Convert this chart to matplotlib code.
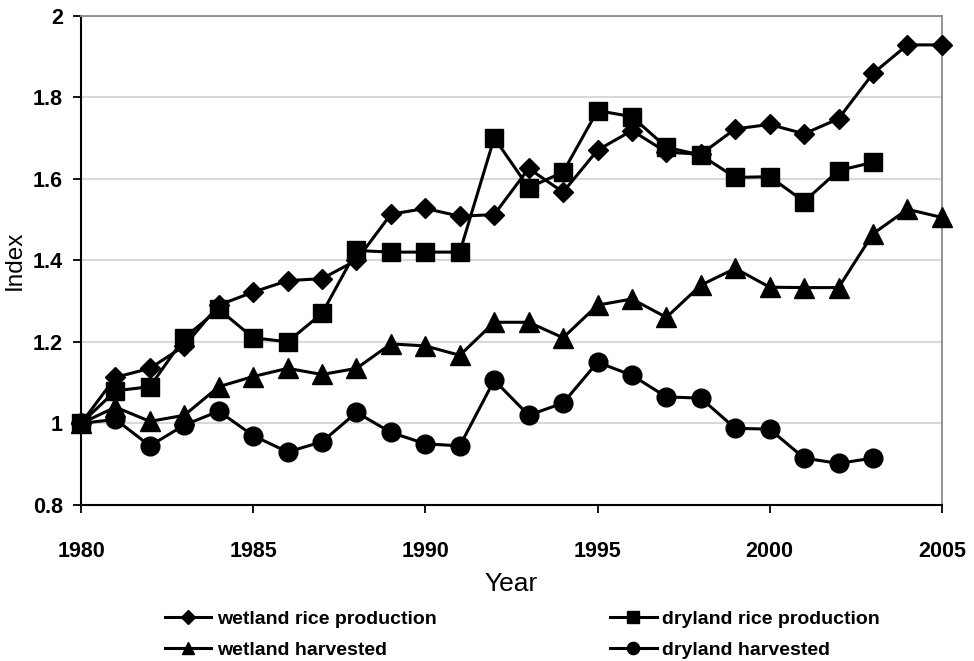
import matplotlib.pyplot as plt
from matplotlib.ticker import FuncFormatter

plt.rcParams['font.family'] = ['Liberation Sans', 'DejaVu Sans']

years = list(range(1980, 2006))
years_dry = list(range(1980, 2004))

wetland_prod = [1.0, 1.113, 1.135, 1.19, 1.29, 1.322, 1.35, 1.355, 1.40, 1.513, 1.527,
                1.508, 1.512, 1.625, 1.567, 1.67, 1.718, 1.665, 1.66, 1.722, 1.733,
                1.71, 1.747, 1.858, 1.928, 1.928]
dryland_prod = [1.0, 1.08, 1.09, 1.21, 1.28, 1.21, 1.20, 1.27, 1.424, 1.42, 1.42,
                1.42, 1.70, 1.578, 1.616, 1.767, 1.752, 1.677, 1.658, 1.603, 1.605,
                1.544, 1.62, 1.64]
wetland_harv = [1.0, 1.04, 1.005, 1.02, 1.09, 1.115, 1.135, 1.12, 1.135, 1.195, 1.19,
                1.167, 1.248, 1.248, 1.21, 1.29, 1.305, 1.26, 1.339, 1.38, 1.334,
                1.333, 1.333, 1.465, 1.525, 1.505]
dryland_harv = [1.0, 1.01, 0.945, 0.996, 1.03, 0.97, 0.93, 0.955, 1.027, 0.978, 0.95,
                0.945, 1.106, 1.02, 1.05, 1.15, 1.118, 1.065, 1.062, 0.988, 0.986,
                0.915, 0.902, 0.915]

fig = plt.figure(figsize=(9.74, 6.61), dpi=100)
ax = fig.add_axes([0.0832, 0.236, 0.8838, 0.7405])

lw = 2.2
l1, = ax.plot(years, wetland_prod, color='black', lw=lw, marker='D', ms=10.5,
              clip_on=False, zorder=5)
l2, = ax.plot(years_dry, dryland_prod, color='black', lw=lw, marker='s', ms=13.5,
              clip_on=False, zorder=4)
l3, = ax.plot(years, wetland_harv, color='black', lw=lw, marker='^', ms=14,
              clip_on=False, zorder=3)
l4, = ax.plot(years_dry, dryland_harv, color='black', lw=lw, marker='o', ms=13.5,
              clip_on=False, zorder=3)

ax.set_xlim(1980, 2005)
ax.set_ylim(0.8, 2.0)
ax.set_xticks([1980, 1985, 1990, 1995, 2000, 2005])
ax.set_yticks([0.8, 1.0, 1.2, 1.4, 1.6, 1.8, 2.0])
ax.yaxis.set_major_formatter(FuncFormatter(lambda v, p: '%g' % round(v, 1)))
ax.grid(axis='y', color='#d9d9d9', lw=1.5)
ax.set_axisbelow(True)

for s in ['top', 'right']:
    ax.spines[s].set_color('#8c8c8c')
    ax.spines[s].set_linewidth(1.3)
for s in ['left', 'bottom']:
    ax.spines[s].set_color('black')
    ax.spines[s].set_linewidth(1.5)

ax.tick_params(axis='both', direction='out', length=6, width=1.3, labelsize=15.5)
ax.tick_params(axis='x', pad=20)
ax.tick_params(axis='y', pad=7)
for t in ax.get_xticklabels() + ax.get_yticklabels():
    t.set_fontweight('bold')

ax.set_xlabel('Year', fontsize=19, labelpad=7)
ax.set_ylabel('Index', fontsize=17.5, labelpad=5)

fig.legend([l1, l3, l2, l4],
           ['wetland rice production', 'wetland harvested',
            'dryland rice production', 'dryland harvested'],
           ncol=2, loc='lower left', bbox_to_anchor=(0.169, 0.003),
           borderaxespad=0, borderpad=0,
           frameon=False, markerscale=0.65, handlelength=2.4, handletextpad=0.3,
           columnspacing=8.9, labelspacing=0.71,
           prop={'size': 14, 'weight': 'bold'})

fig.savefig('out.png', dpi=100)
